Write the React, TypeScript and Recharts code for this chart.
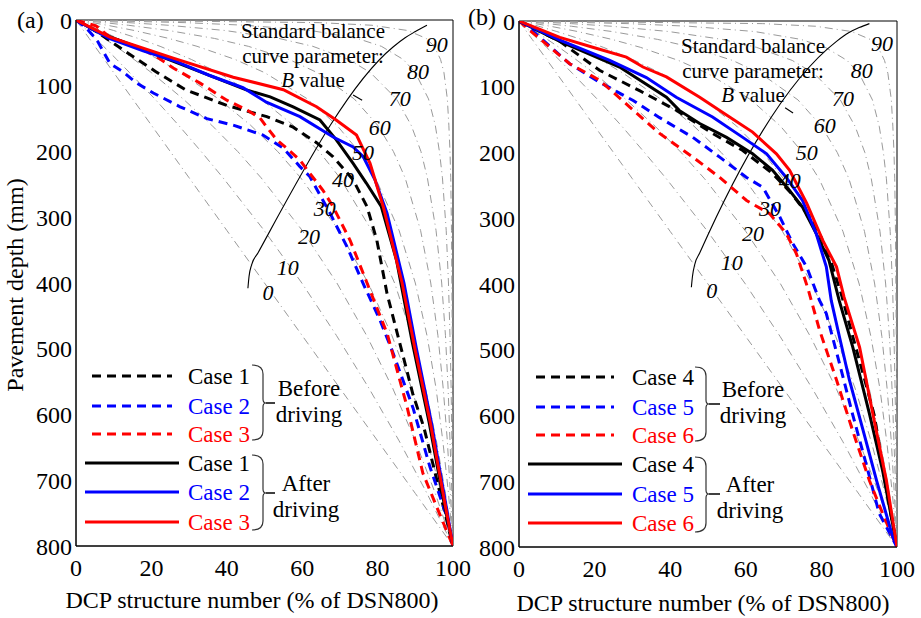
import { ComposedChart, Line, Scatter, XAxis, YAxis, ReferenceArea } from 'recharts'

const FONT = 'Liberation Serif, Tinos, DejaVu Serif, serif'

const DEPTH_TICKS = [0, 100, 200, 300, 400, 500, 600, 700, 800]
const DCP_TICKS = [0, 20, 40, 60, 80, 100]

// standard balance curves, % DSN read at these depths (mm)
const BALANCE_B = [0, 10, 20, 30, 40, 50, 60, 70, 80, 90]
const BALANCE_DEPTHS = [0, 4, 8, 16, 28, 40, 60, 80, 120, 160, 200, 240, 320, 400, 480, 560, 640, 720, 800]
const BAL_B0 = [0, 0.5, 1, 2, 3.5, 5, 7.5, 10, 15, 20, 25, 30, 40, 50, 60, 70, 80, 90, 100]
const BAL_B10 = [0, 0.7, 1.5, 3.0, 5.1, 7.3, 10.8, 14.2, 20.9, 27.2, 33.2, 39.0, 49.9, 59.9, 69.1, 77.7, 85.7, 93.1, 100]
const BAL_B20 = [0, 1.1, 2.2, 4.4, 7.5, 10.6, 15.4, 20.0, 28.4, 36.0, 42.9, 49.1, 60.0, 69.2, 77.1, 84.0, 90.0, 95.3, 100]
const BAL_B30 = [0, 1.7, 3.4, 6.6, 11.1, 15.4, 21.9, 27.7, 37.8, 46.3, 53.5, 59.6, 69.7, 77.5, 83.8, 89.0, 93.2, 96.9, 100]
const BAL_B40 = [0, 2.7, 5.2, 10.0, 16.5, 22.3, 30.6, 37.7, 49.0, 57.6, 64.5, 70.0, 78.4, 84.5, 89.1, 92.7, 95.6, 98.0, 100]
const BAL_B50 = [0, 4.3, 8.3, 15.5, 24.6, 32.1, 42.2, 50.0, 61.4, 69.2, 75.0, 79.4, 85.7, 90.0, 93.1, 95.5, 97.3, 98.8, 100]
const BAL_B60 = [0, 7.4, 13.9, 24.6, 36.7, 45.7, 56.5, 64.0, 73.8, 80.0, 84.2, 87.3, 91.4, 94.1, 96.0, 97.4, 98.5, 99.3, 100]
const BAL_B70 = [0, 13.9, 24.5, 39.6, 53.8, 62.8, 72.3, 78.1, 85.0, 88.9, 91.5, 93.2, 95.5, 97.0, 98.0, 98.7, 99.2, 99.7, 100]
const BAL_B80 = [0, 28.9, 45.0, 62.3, 74.6, 81.0, 86.8, 90.0, 93.5, 95.3, 96.4, 97.2, 98.2, 98.8, 99.2, 99.5, 99.7, 99.9, 100]
const BAL_B90 = [0, 64.5, 78.5, 88.0, 92.9, 95.0, 96.7, 97.6, 98.5, 98.9, 99.2, 99.4, 99.6, 99.7, 99.8, 99.9, 99.9, 100, 100]
const BALANCE_CURVES = [BAL_B0, BAL_B10, BAL_B20, BAL_B30, BAL_B40, BAL_B50, BAL_B60, BAL_B70, BAL_B80, BAL_B90]

// where the B value numbers sit, [x %, depth]
const A_B_LABEL_X = [50.9, 56.2, 61.8, 66.0, 70.8, 76.1, 80.6, 85.9, 90.7, 95.7]
const A_B_LABEL_DEPTH = [414, 376, 329, 286, 243, 202, 164, 119, 79, 38]
const B_B_LABEL_X = [51.0, 56.3, 61.9, 66.4, 71.6, 76.1, 80.9, 85.7, 90.7, 96.0]
const B_B_LABEL_DEPTH = [410, 368, 323, 285, 242, 200, 159, 118, 75, 34]

// the "B value" axis line drawn across the curves
const A_B_AXIS = [[45.6, 408], [45.9, 390], [46.6, 372], [48.3, 354], [84.1, 41], [87.3, 27], [89.9, 18], [93.1, 8]]
const A_B_TICK = [[73.5, 114], [75.9, 122]]
const B_B_AXIS = [[45.6, 405], [45.9, 388], [46.5, 370], [47.8, 353], [84, 31], [87.2, 18], [90, 10], [92.7, 4]]
const B_B_TICK = [[70.4, 132], [72.5, 140]]

// panel (a): [DCP %, depth mm]
const CASE1_BEFORE = [[0, 0], [5.3, 17], [9.8, 35], [21, 78], [29, 106], [40, 130], [50.6, 147], [57.6, 163], [63.9, 187], [68.2, 208], [73.5, 243], [77.2, 284], [79.8, 335], [82.5, 416], [86, 494], [89.4, 570], [92.3, 620], [96.5, 718], [100, 800]]
const CASE2_BEFORE = [[0, 0], [2.7, 12], [5.5, 30], [9, 66], [12.5, 79], [16.1, 96], [20.5, 111], [27.6, 132], [34.7, 150], [41.7, 160], [49.6, 175], [55, 195], [59.4, 223], [62, 238], [67.4, 294], [71.9, 345], [76.5, 405], [80.6, 456], [84, 505], [89.4, 590], [93.9, 680], [98.4, 756], [100, 800]]
const CASE3_BEFORE = [[0, 0], [5.3, 9], [9, 26], [17, 43], [21.4, 56], [25.8, 73], [32.9, 96], [40, 122], [45.4, 137], [48.8, 149], [50.6, 163], [53.2, 182], [55.9, 195], [59.4, 213], [62, 233], [65.5, 259], [68.2, 284], [72.7, 335], [77.2, 400], [82.6, 478], [87.8, 588], [92, 689], [96.5, 752], [100, 800]]
const CASE1_AFTER = [[0, 0], [6.4, 20], [17, 43], [33, 79], [45, 106], [51.5, 117], [57.6, 132], [64.7, 152], [69, 182], [73.5, 218], [77, 248], [81, 284], [85, 365], [89.2, 490], [93.7, 613], [97.8, 740], [100, 800]]
const CASE2_AFTER = [[0, 0], [8.8, 28], [17.8, 47], [26.5, 63], [35.3, 84], [44.3, 103], [50.5, 125], [59.4, 147], [68.2, 178], [73.5, 193], [76.2, 208], [79.3, 243], [82.5, 294], [87, 400], [90.3, 500], [94.3, 613], [98.2, 740], [100, 800]]
const CASE3_AFTER = [[0, 0], [9, 26], [25.8, 58], [41.7, 87], [55, 106], [63.8, 132], [69, 152], [74.4, 175], [78, 218], [81.5, 284], [86.5, 400], [89.9, 500], [94, 613], [98, 740], [100, 800]]

// panel (b)
const CASE4_BEFORE = [[0, 0], [10.8, 31], [21.3, 75], [31.9, 106], [41.7, 136], [51.2, 171], [59.2, 197], [67.1, 232], [72, 262], [76.9, 298], [79.5, 323], [82.5, 365], [85.5, 420], [88.3, 480], [91.2, 540], [94, 600], [96.8, 699], [100, 800]]
const CASE5_BEFORE = [[0, 0], [2.8, 11], [13.4, 65], [21.3, 93], [30.2, 121], [37.2, 147], [46, 177], [53.1, 207], [60.2, 238], [64.5, 253], [69, 298], [72.5, 339], [76.1, 374], [79.5, 425], [81.3, 445], [84.8, 521], [88.2, 597], [91.8, 673], [95.3, 749], [100, 800]]
const CASE6_BEFORE = [[0, 0], [2.8, 14], [13.4, 65], [21.3, 90], [29.3, 131], [37.2, 171], [46, 207], [53.1, 238], [60.2, 273], [66.3, 293], [70.7, 323], [73.4, 354], [76.5, 408], [79.5, 470], [84, 546], [88.2, 622], [92.7, 699], [96.2, 749], [100, 800]]
const CASE4_AFTER = [[0, 0], [10.8, 31], [26.6, 70], [39, 116], [42.4, 136], [47.8, 156], [54.9, 177], [61.8, 202], [67.1, 227], [71.6, 258], [75, 283], [78.6, 323], [82, 364], [84.7, 425], [88.3, 496], [92.7, 597], [96.2, 684], [100, 800]]
const CASE5_AFTER = [[0, 0], [10.8, 29], [24, 60], [33.7, 86], [41.6, 116], [51.2, 146], [59.2, 177], [65.5, 202], [70.7, 238], [75, 273], [78.6, 323], [81.3, 374], [82.6, 425], [84.8, 481], [87.4, 546], [91, 622], [94.6, 699], [98.9, 785], [100, 800]]
const CASE6_AFTER = [[0, 0], [10.8, 25], [19.5, 40], [28.4, 55], [32.8, 70], [39, 85], [47.8, 116], [54.9, 143], [61.8, 169], [68.1, 202], [71.6, 227], [76.1, 277], [80.4, 334], [84, 374], [86, 420], [90.1, 496], [93.6, 597], [97.2, 699], [100, 800]]

const COLORS = ['#000000', '#0000ff', '#ff0000']

const toPts = (pairs: number[][]) => pairs.map(([x, depth]) => ({ x, depth }))

interface PanelProps {
  left: number
  width: number
  yAxisWidth: number
  margin: { top: number; right: number; bottom: number; left: number }
  before: number[][][]
  after: number[][][]
  labelX: number[]
  labelDepth: number[]
  bAxis: number[][]
  bTick: number[][]
}

function Panel({ left, width, yAxisWidth, margin, before, after, labelX, labelDepth, bAxis, bTick }: PanelProps) {
  const labels = BALANCE_B.map((b, i) => ({ x: labelX[i], depth: labelDepth[i], b }))
  const tickStyle = { fill: '#000', fontSize: 24, fontFamily: FONT }
  return (
    <div style={{ position: 'absolute', left, top: 0 }}>
      <ComposedChart width={width} height={618} margin={margin}>
        <XAxis type="number" dataKey="x" domain={[0, 100]} ticks={DCP_TICKS} interval={0}
          tickSize={0} tickMargin={13} height={30} allowDataOverflow
          axisLine={{ stroke: '#000' }} tick={tickStyle} />
        <YAxis type="number" domain={[0, 800]} reversed ticks={DEPTH_TICKS} interval={0}
          tickSize={0} tickMargin={4} width={yAxisWidth} allowDataOverflow
          axisLine={{ stroke: '#000' }} tick={tickStyle} />
        {BALANCE_CURVES.map((xs, i) => (
          <Line key={'bal' + i} data={xs.map((x, j) => ({ x, depth: BALANCE_DEPTHS[j] }))} dataKey="depth"
            type="linear" dot={false} stroke="#9a9a9a" strokeWidth={1} strokeDasharray="8 4 1 4"
            isAnimationActive={false} />
        ))}
        <Line data={toPts(bAxis)} dataKey="depth" type="monotone" dot={false} stroke="#000" strokeWidth={1.1} isAnimationActive={false} />
        <Line data={toPts(bTick)} dataKey="depth" type="linear" dot={false} stroke="#000" strokeWidth={1.1} isAnimationActive={false} />
        <Scatter data={labels} dataKey="depth" isAnimationActive={false}
          shape={(p: any) => (
            <text x={p.cx} y={p.cy} textAnchor="middle" dominantBaseline="central"
              fontFamily={FONT} fontStyle="italic" fontSize={22} fill="#000">{p.payload.b}</text>
          )} />
        {before.map((s, i) => (
          <Line key={'b' + i} data={toPts(s)} dataKey="depth" type="linear" dot={false} stroke={COLORS[i]}
            strokeWidth={3} strokeDasharray="9 6" isAnimationActive={false} />
        ))}
        {after.map((s, i) => (
          <Line key={'a' + i} data={toPts(s)} dataKey="depth" type="linear" dot={false} stroke={COLORS[i]}
            strokeWidth={3} isAnimationActive={false} />
        ))}
        <ReferenceArea x1={0} x2={100} y1={0} y2={800} fill="none" stroke="#000" strokeWidth={1} fillOpacity={0} />
      </ComposedChart>
    </div>
  )
}

interface LegendProps {
  dash: number[]
  solid: number[]
  textX: number
  rows: number[]
  names: string[]
  braceX: number
  brace1: number[]
  brace2: number[]
  tickEnd: number
  beforeX: number
  afterX: number
}

function Brace({ x, top, mid, bottom, tickEnd }: { x: number; top: number; mid: number; bottom: number; tickEnd: number }) {
  const v = x + 11
  const d = `M${x},${top} Q${v},${top} ${v},${top + 9} L${v},${mid - 4} Q${v},${mid} ${v + 3},${mid} Q${v},${mid} ${v},${mid + 4} L${v},${bottom - 9} Q${v},${bottom} ${x},${bottom}`
  return (
    <g>
      <path d={d} fill="none" stroke="#333" strokeWidth={1.2} />
      <line x1={v + 3} y1={mid} x2={tickEnd} y2={mid} stroke="#000" strokeWidth={1.5} />
    </g>
  )
}

function CaseLegend({ dash, solid, textX, rows, names, braceX, brace1, brace2, tickEnd, beforeX, afterX }: LegendProps) {
  const txt = { fontFamily: FONT, fontSize: 23, dominantBaseline: 'central' as const }
  return (
    <g>
      {rows.map((y, i) => {
        const k = i % 3
        const isDash = i < 3
        const xs = isDash ? dash : solid
        return (
          <g key={i}>
            <line x1={xs[0]} x2={xs[1]} y1={y} y2={y} stroke={COLORS[k]} strokeWidth={3}
              strokeDasharray={isDash ? '9 6' : undefined} />
            <text x={textX} y={y} fill={COLORS[k]} {...txt}>{names[k]}</text>
          </g>
        )
      })}
      <Brace x={braceX} top={brace1[0]} mid={brace1[1]} bottom={brace1[2]} tickEnd={tickEnd} />
      <Brace x={braceX} top={brace2[0]} mid={brace2[1]} bottom={brace2[2]} tickEnd={tickEnd} />
      <text x={beforeX} y={brace1[1] - 15} textAnchor="middle" {...txt}>Before</text>
      <text x={beforeX} y={brace1[1] + 11} textAnchor="middle" {...txt}>driving</text>
      <text x={afterX} y={brace2[1] - 10} textAnchor="middle" {...txt}>After</text>
      <text x={afterX} y={brace2[1] + 16} textAnchor="middle" {...txt}>driving</text>
    </g>
  )
}

function CurveNote({ cx, y }: { cx: number; y: number }) {
  const t = { fontFamily: FONT, fontSize: 21, textAnchor: 'middle' as const, dominantBaseline: 'central' as const }
  return (
    <g>
      <text x={cx} y={y} {...t}>Standard balance</text>
      <text x={cx} y={y + 25} {...t}>curve parameter:</text>
      <text x={cx} y={y + 49} {...t}><tspan fontStyle="italic">B</tspan> value</text>
    </g>
  )
}

export default function App() {
  return (
    <div style={{ position: 'absolute', left: 0, top: 0, width: 921, height: 618, background: '#fff', overflow: 'hidden', fontFamily: FONT }}>
      <Panel left={0} width={490} yAxisWidth={76} margin={{ top: 20, right: 37, bottom: 42, left: 0 }}
        before={[CASE1_BEFORE, CASE2_BEFORE, CASE3_BEFORE]} after={[CASE1_AFTER, CASE2_AFTER, CASE3_AFTER]}
        labelX={A_B_LABEL_X} labelDepth={A_B_LABEL_DEPTH} bAxis={A_B_AXIS} bTick={A_B_TICK} />
      <Panel left={460} width={461} yAxisWidth={59} margin={{ top: 21, right: 24, bottom: 41, left: 0 }}
        before={[CASE4_BEFORE, CASE5_BEFORE, CASE6_BEFORE]} after={[CASE4_AFTER, CASE5_AFTER, CASE6_AFTER]}
        labelX={B_B_LABEL_X} labelDepth={B_B_LABEL_DEPTH} bAxis={B_B_AXIS} bTick={B_B_TICK} />
      <svg width={921} height={618} style={{ position: 'absolute', left: 0, top: 0, pointerEvents: 'none' }}>
        <text x={17} y={20} fontFamily={FONT} fontSize={24} dominantBaseline="central">(a)</text>
        <text x={468} y={17} fontFamily={FONT} fontSize={24} dominantBaseline="central">(b)</text>
        <text x={15} y={285} transform="rotate(-90 15 285)" textAnchor="middle" dominantBaseline="central"
          fontFamily={FONT} fontSize={24}>Pavement depth (mm)</text>
        <text x={252} y={600} textAnchor="middle" dominantBaseline="central" fontFamily={FONT} fontSize={24}>
          DCP structure number (% of DSN800)</text>
        <text x={703} y={603} textAnchor="middle" dominantBaseline="central" fontFamily={FONT} fontSize={24}>
          DCP structure number (% of DSN800)</text>
        <CurveNote cx={313} y={31} />
        <CurveNote cx={753} y={46} />
        <CaseLegend dash={[92, 172]} solid={[85, 179]} textX={188} rows={[376, 406, 434, 463, 492, 522]}
          names={['Case 1', 'Case 2', 'Case 3']} braceX={252} brace1={[365, 403, 440]} brace2={[455, 493, 530]}
          tickEnd={275} beforeX={309} afterX={306} />
        <CaseLegend dash={[536, 614]} solid={[528, 622]} textX={632} rows={[377, 407, 435, 464, 494, 523]}
          names={['Case 4', 'Case 5', 'Case 6']} braceX={695} brace1={[367, 404, 441]} brace2={[457, 494, 532]}
          tickEnd={720} beforeX={753} afterX={750} />
      </svg>
    </div>
  )
}
